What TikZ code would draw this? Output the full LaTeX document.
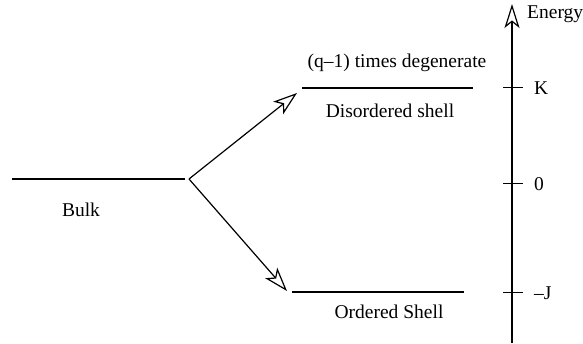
\documentclass[tikz,border=0pt]{standalone}
\usepackage{fontspec}
\setmainfont{Liberation Serif}
\usetikzlibrary{arrows.meta}
\begin{document}
\begin{tikzpicture}[x=1pt,y=-1pt,
  level/.style={line width=1.4pt},
  conn/.style={line width=1.2pt,-{Stealth[open,length=24pt,width=16pt,inset=6pt,line width=1.2pt]}},
  axisline/.style={line width=1.2pt,-{Stealth[open,length=24pt,width=15pt,inset=6pt,line width=1.2pt]}},
  tick/.style={line width=1pt},
  lbl/.style={inner sep=0pt,font=\fontsize{19.5}{22}\selectfont}]
\useasboundingbox (0,0) rectangle (583,344);
% energy levels
\coordinate (b1) at (12,179);
\coordinate (b2) at (185,179);
\coordinate (split) at (189,179);
\coordinate (d1) at (302,88);
\coordinate (d2) at (473,88);
\coordinate (o1) at (292,292);
\coordinate (o2) at (464,292);
\draw[level] (b1) -- (b2);
\draw[level] (d1) -- (d2);
\draw[level] (o1) -- (o2);
\node[lbl] (bulk) at (81,210) {Bulk};
\node[lbl] (deg) at (397,63) {(q\textendash1) times degenerate};
\node[lbl] (dis) at (390,111) {Disordered shell};
\node[lbl] (ord) at (389,312) {Ordered Shell};
% splitting arrows
\coordinate (tipup) at (297,93);
\coordinate (tipdown) at (287,291);
\draw[conn] (split) -- (tipup);
\draw[conn] (split) -- (tipdown);
% energy axis
\coordinate (ax0) at (512,343);
\coordinate (ax1) at (512,4);
\draw[axisline] (ax0) -- (ax1);
\node[lbl,anchor=west] (energy) at (527,14) {Energy};
\foreach \y/\t/\n in {88/K/tk, 184/0/tz, 293/\textendash J/tj}{
  \draw[tick] (503,\y) -- (523,\y);
  \node[lbl,anchor=west] (\n) at (534,\y) {\t};
}
\end{tikzpicture}
\end{document}
